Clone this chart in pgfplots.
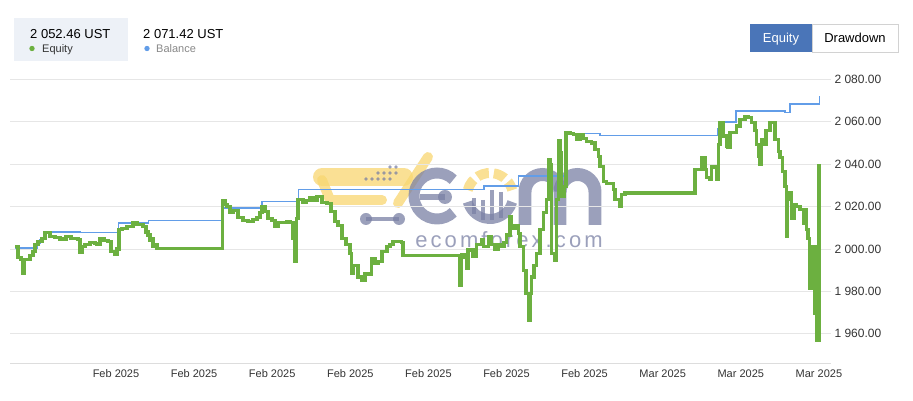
\documentclass[border=0pt]{standalone}
\usepackage{pgfplots}
\pgfplotsset{compat=1.18}
\usepackage{fontspec}
\setmainfont{Liberation Sans}
\newfontfamily\wmfont[LetterSpace=14]{Liberation Sans}
\definecolor{eqgreen}{RGB}{108,176,64}
\definecolor{balblue}{RGB}{98,157,232}
\definecolor{gridgray}{RGB}{230,230,230}
\definecolor{axgray}{RGB}{221,221,221}
\definecolor{slate}{RGB}{122,128,164}
\definecolor{wmyellow}{RGB}{248,214,112}
\definecolor{legbg}{RGB}{237,241,247}
\definecolor{btnblue}{RGB}{74,117,184}
\definecolor{btnborder}{RGB}{210,210,210}
\definecolor{txt}{RGB}{51,51,51}
\definecolor{subtxt}{RGB}{136,136,136}

\begin{document}
\begin{tikzpicture}
\path[use as bounding box] (0,0) rectangle (913bp,401bp);
\begin{scope}[x=1bp,y=-1bp,yshift=401bp]
  % summary box
  \fill[legbg] (14,18) rectangle (128,61);
  \node[anchor=base west, inner sep=0pt, text=black, font=\fontsize{13bp}{15bp}\selectfont] at (30,39) {2 052.46 UST};
  \fill[eqgreen] (32,48.5) circle (2.7);
  \node[anchor=base west, inner sep=0pt, text=txt, font=\fontsize{11bp}{13bp}\selectfont] at (42,52.5) {Equity};
  \node[anchor=base west, inner sep=0pt, text=black, font=\fontsize{13bp}{15bp}\selectfont] at (143,39) {2 071.42 UST};
  \fill[balblue] (147,48.5) circle (2.7);
  \node[anchor=base west, inner sep=0pt, text=subtxt, font=\fontsize{11bp}{13bp}\selectfont] at (156,52.5) {Balance};
  % buttons
  \fill[btnblue] (750,24) rectangle (812,52);
  \draw[btnborder, line width=0.8] (812,24) rectangle (898,52);
  \node[anchor=base, inner sep=0pt, text=white, font=\fontsize{13bp}{15bp}\selectfont] at (781,42.5) {Equity};
  \node[anchor=base, inner sep=0pt, text=black, font=\fontsize{13bp}{15bp}\selectfont] at (855,42.5) {Drawdown};
  % watermark
  \begin{scope}[opacity=0.75]
    \draw[wmyellow, line width=18, line cap=round] (404,177) -- (322,177);
    \draw[wmyellow, line width=10, line cap=round] (322,180) -- (330,200) -- (382,200);
    \draw[wmyellow, line width=10, line cap=round] (428,157) -- (398,203);
    \foreach \px/\py in {390/167,396/167,378/173,384/173,390/173,396/173,366/179,372/179,378/179,384/179,390/179}
      \fill[slate] (\px,\py) circle (1.8);
    \draw[slate, line width=4] (366,219) -- (399,219);
    \fill[slate] (366,219) circle (6);
    \fill[slate] (399,219) circle (6);
    \draw[slate, line width=11] (437,196) ++(45:23) arc[start angle=45, end angle=315, radius=23];
    \draw[slate, line width=7] (420,197) -- (445,197);
    \fill[slate] (445,197) circle (7);
    \draw[wmyellow, line width=10, dash pattern=on 12 off 5] (490,196) ++(195:23) arc[start angle=195, end angle=345, radius=23];
    \draw[slate, line width=10] (490,196) ++(15:23) arc[start angle=15, end angle=165, radius=23];
    \draw[slate, line width=5] (474,198) -- (474,214);
    \draw[slate, line width=5] (483,200) -- (483,220);
    \draw[slate, line width=5] (492,190) -- (492,220);
    \draw[slate, line width=5] (501,192) -- (501,218);
    \draw[slate, line width=13] (525,225) -- (525,192) arc[start angle=180, end angle=360, radius=17.5] -- (560,225);
    \draw[slate, line width=13] (560,192) arc[start angle=180, end angle=360, radius=17.5] -- (595,225);
    \node[text=slate, font=\wmfont\fontsize{22bp}{24bp}\selectfont, inner sep=0pt] at (509,240) {ecomforex.com};
  \end{scope}
\end{scope}
\begin{axis}[
  at={(10bp,38bp)}, anchor=south west, scale only axis,
  width=821bp, height=284bp,
  xmin=10, xmax=831, ymin=1946.2, ymax=2080.2,
  axis x line*=bottom, axis y line*=right, separate axis lines,
  x axis line style={draw=axgray, line width=0.8bp, -},
  y axis line style={draw=none, -},
  major tick length=0pt,
  xtick={116,194.1,272.2,350.3,428.4,506.5,584.6,662.7,740.8,818.9},
  xticklabels={Feb 2025,Feb 2025,Feb 2025,Feb 2025,Feb 2025,Feb 2025,Feb 2025,Mar 2025,Mar 2025,Mar 2025},
  ytick={1960,1980,2000,2020,2040,2060,2080},
  yticklabels={1 960.00,1 980.00,2 000.00,2 020.00,2 040.00,2 060.00,2 080.00},
  ymajorgrids, grid style={draw=gridgray, line width=0.8bp},
  xticklabel style={font=\fontsize{11bp}{13bp}\selectfont, text=txt, yshift=-3bp},
  yticklabel style={font=\fontsize{12bp}{14bp}\selectfont, text=txt, anchor=west},
]
\addplot[balblue, line width=1.6bp, const plot, mark=none] coordinates {
(15,2000.4) (36.7,2002.7) (40,2004.3) (43.3,2008.0) (80,2007.8) (118.3,2012.2)
(148.3,2013.4) (223.3,2019.3) (261.7,2022.4) (298.3,2028.0) (484,2029.8)
(518.3,2034.3) (566,2054.5) (600,2053.5) (717.3,2056.5) (720,2059.9)
(735.7,2065.2) (785,2064.4) (790,2068.3) (819.3,2071.6) (820,2071.6)
};
\addplot[eqgreen, line width=3.1bp, const plot, line join=miter, mark=none] coordinates {
(15,2001) (18,1996) (21,1995) (22,1995) (23,1988.5) (24,1995) (27,1995)
(30,1997) (33,1999) (35,2002) (38,2003.5) (42,2005) (45,2007.6) (50,2006)
(55,2005.5) (60,2004.7) (66,2006) (71,2004.8) (78,2004.3) (80,1998.3)
(82,2001) (85,2002) (90,2003) (95,2002.5) (97,2002) (100,2004.7) (104,2004)
(108,2003.5) (111,1998.7) (115,1997.6) (117,2000) (119,2009) (122,2009.5)
(127,2010.6) (133,2012.3) (137,2011.5) (140,2011.5) (143,2010.6) (146,2008)
(148,2006.6) (150,2004) (152,2005) (153,2001.1) (155,2002) (157,2000.3)
(222,2000.3) (222.5,2023) (225,2021) (227,2020) (230,2017) (233,2018)
(238,2014.7) (243,2013.5) (248,2013) (253,2013.8) (257,2014.7) (260,2017)
(262,2020) (265,2017.5) (268,2014.5) (272,2013.6) (275,2010.6) (278,2012.3)
(283,2012.5) (287,2013) (290,2012.5) (293,2005) (295,1994) (296.7,2014.5)
(298,2023.3) (303,2022) (306,2023) (310,2024.2) (313,2023) (317,2024.8)
(322,2022) (327,2021.5) (331,2017.7) (335,2013) (338,2011) (342,2005)
(346,2002) (350,1998) (351.5,1988.5) (353,1992) (355,1992.4) (358,1986.8)
(362,1985.3) (365,1988.5) (368,1988) (371.5,1995.6) (375,1993.2) (378,1994)
(382,1998.7) (387,2001.1) (390,2002) (393,2003.5) (397,2003.5) (401.5,2003)
(403,1997.1) (459,1997.1) (460,1983) (461.5,1997.5) (465,1996) (466.5,1990.8)
(468,1999.5) (473,1996.6) (476.7,2001.9) (481.7,2004.3) (483.3,2001)
(486,2001) (488.3,2005.8) (491.7,2002) (495,2000) (498.3,2002) (501.7,2001)
(504,2003) (506.7,2006.6) (510,2015.3) (511.7,2009.7) (515,2011) (518.3,2007.3)
(520,2001) (523.3,1990) (526,1979) (528.3,1966.4) (530,1979) (531.7,1986.8)
(534,1992) (536.7,1997.9) (540,2009) (543.3,2017) (546.7,2023.4) (548.3,2042.3)
(550,2040) (551.7,1997.9) (555,1994.8) (556.7,2023.4) (558.3,2051) (560,2045.4)
(561.7,2024.8) (564,2029.6) (566,2054.8) (570,2054.5) (573.3,2053.9)
(576.7,2051.8) (580,2054) (583.3,2052) (586.7,2050.8) (591.7,2050) (595,2047)
(598.3,2043.8) (600,2039) (603.3,2032) (606.7,2031) (611,2031) (613.3,2028)
(615,2023.3) (620,2020.2) (621.7,2025.7) (625,2026.4) (693.3,2026.4)
(695,2037.6) (698.3,2037.6) (701.7,2043) (705,2037.6) (706.7,2033.6) (710,2033)
(711.7,2039) (715,2038.5) (716.7,2032.8) (718.3,2049.5) (720,2059.8)
(723.3,2053.3) (726.7,2048.5) (728,2048) (730,2054.8) (733.3,2055) (736.7,2058)
(740,2061.3) (745,2062.6) (748.3,2062) (751.7,2059.8) (755,2055.8)
(756.7,2049.4) (758.3,2043.8) (760,2039.9) (761.7,2051.8) (763.3,2049.5)
(766,2055.8) (770,2059.8) (773.3,2059.8) (775,2051.8) (778.3,2046.2)
(780,2043) (782.7,2036.7) (785,2029.6) (786.7,2005.8) (787.7,2023.3)
(790,2026.5) (791.7,2014.6) (794,2020.9) (796.7,2020) (800,2018.5)
(803.3,2012.2) (805,2018.5) (806.7,2009) (808,2005) (809.3,1981.3)
(811.7,2001.1) (814,2001) (815,1969.5) (816.7,1956.8) (818.3,1956.8) (819,2039.9)
};
\end{axis}
\end{tikzpicture}
\end{document}
